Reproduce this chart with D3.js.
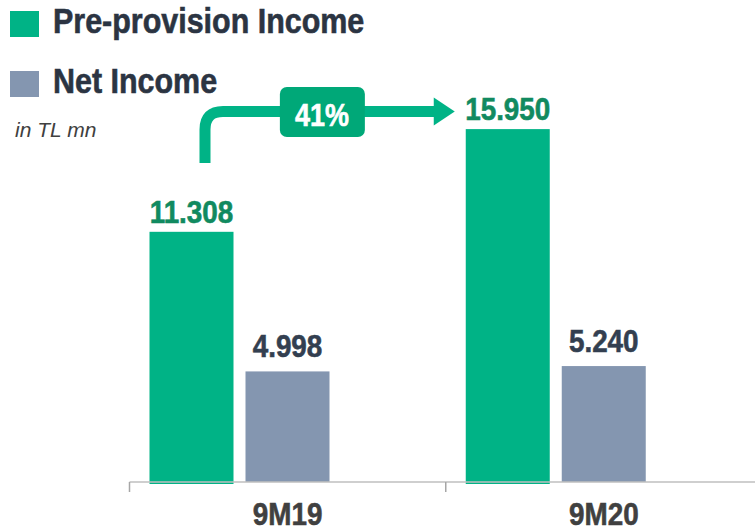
<!DOCTYPE html>
<html>
<head>
<meta charset="utf-8">
<script src="https://cdn.jsdelivr.net/npm/d3@7"></script>
<style>
  body { margin: 0; background: #fff; }
  svg { display: block; font-family: "Liberation Sans", Arial, sans-serif; }
  .heavy { font-weight: bold; stroke-width: 0.6px; paint-order: stroke; }
</style>
</head>
<body>
<div id="chart"></div>
<script>
// data
const periods = ["9M19", "9M20"];
const seriesNames = ["Pre-provision Income", "Net Income"];
const preProvision = [11.308, 15.950];
const netIncome = [4.998, 5.240];
const growthLabel = "41%";
const unitLabel = "in TL mn";

const width = 755;
const height = 530;
const narrow = "scale(0.87,1)"; // source font is a condensed bold

const colors = { "Pre-provision Income": "#00b386", "Net Income": "#8496b0" };
const labelColors = { "Pre-provision Income": "#118a60", "Net Income": "#333f50" };
const labelGap = { "Pre-provision Income": 9, "Net Income": 14 };

const rows = periods.map((p, i) => ({
    period: p,
    values: [
        { name: seriesNames[0], value: preProvision[i] },
        { name: seriesNames[1], value: netIncome[i] },
    ],
}));

const svg = d3.select("#chart")
    .append("svg")
    .attr("width", width)
    .attr("height", height);

const x = d3.scaleBand()
    .domain(periods)
    .range([129.5, 762])
    .padding(0);

const xInner = d3.scaleBand()
    .domain(seriesNames)
    .range([20, 200])
    .paddingInner(0.125)
    .paddingOuter(0);

const y = d3.scaleLinear()
    .domain([0, 16])
    .range([482, 128]);

// category labels
const axis = svg.append("g")
    .attr("transform", `translate(0, ${y(0)})`)
    .call(d3.axisBottom(x).tickSize(0).tickPadding(20));

axis.select(".domain").remove();
axis.selectAll("text")
    .attr("class", "heavy")
    .attr("transform", narrow)
    .attr("dy", "0.71em")
    .style("font-size", "32px")
    .style("fill", "#404040")
    .style("stroke", "#404040");

// bars
const groups = svg.selectAll(".period")
    .data(rows)
    .enter()
    .append("g")
    .attr("class", "period")
    .attr("transform", d => `translate(${x(d.period)}, 0)`);

groups.selectAll("rect")
    .data(d => d.values)
    .enter()
    .append("rect")
    .attr("x", d => xInner(d.name))
    .attr("y", d => y(d.value))
    .attr("width", xInner.bandwidth())
    .attr("height", d => y(0) - y(d.value) + (d.name === seriesNames[0] ? 2 : 0))
    .attr("fill", d => colors[d.name]);

groups.selectAll("g.lbl")
    .data(d => d.values)
    .enter()
    .append("g")
    .attr("class", "lbl")
    .attr("transform", d => `translate(${xInner(d.name) + xInner.bandwidth() / 2}, ${y(d.value) - labelGap[d.name]})`)
    .append("text")
    .attr("class", "heavy")
    .attr("transform", narrow)
    .attr("text-anchor", "middle")
    .style("font-size", "32px")
    .style("fill", d => labelColors[d.name])
    .style("stroke", d => labelColors[d.name])
    .text(d => d3.format(".3f")(d.value));

// axis line drawn over bar bottoms
svg.append("line")
    .attr("x1", x.range()[0])
    .attr("x2", width)
    .attr("y1", y(0))
    .attr("y2", y(0))
    .attr("stroke", "#bfbfbf")
    .attr("stroke-width", 1.5);

svg.selectAll(".tickmark")
    .data(periods)
    .enter()
    .append("line")
    .attr("class", "tickmark")
    .attr("x1", d => x(d))
    .attr("x2", d => x(d))
    .attr("y1", y(0))
    .attr("y2", y(0) + 10)
    .attr("stroke", "#a6a6a6")
    .attr("stroke-width", 1.5);

// legend
const legend = svg.selectAll(".legend")
    .data(seriesNames)
    .enter()
    .append("g")
    .attr("class", "legend")
    .attr("transform", (d, i) => `translate(10, ${11 + i * 60})`);

legend.append("rect")
    .attr("width", 29)
    .attr("height", 26)
    .attr("fill", d => colors[d]);

legend.append("g")
    .attr("transform", "translate(43, 22)")
    .append("text")
    .attr("class", "heavy")
    .attr("transform", narrow)
    .style("font-size", "35px")
    .style("fill", "#2b3442")
    .style("stroke", "#2b3442")
    .text(d => d);

svg.append("text")
    .attr("x", 15)
    .attr("y", 137)
    .style("font-size", "21px")
    .style("font-style", "italic")
    .style("fill", "#404040")
    .text(unitLabel);

// growth arrow from 9M19 to 9M20 pre-provision bars
const startX = x(periods[0]) + xInner(seriesNames[0]) + 55.5;
const endX = x(periods[1]) + xInner(seriesNames[0]) - 11;
const lineY = 111.5;
const r = 18;

svg.append("path")
    .attr("d", `M${startX},163 V${lineY + r} Q${startX},${lineY} ${startX + r},${lineY} H${endX - 20}`)
    .attr("fill", "none")
    .attr("stroke", "#00b386")
    .attr("stroke-width", 11);

svg.append("path")
    .attr("d", `M${endX - 21},${lineY - 14} L${endX},${lineY} L${endX - 21},${lineY + 14} Z`)
    .attr("fill", "#00b386");

const boxCx = (startX + endX) / 2 - 8;
svg.append("rect")
    .attr("x", boxCx - 42)
    .attr("y", 87)
    .attr("width", 85)
    .attr("height", 50)
    .attr("rx", 7)
    .attr("fill", "#00a878");

svg.append("g")
    .attr("transform", `translate(${boxCx}, 126)`)
    .append("text")
    .attr("class", "heavy")
    .attr("transform", narrow)
    .attr("text-anchor", "middle")
    .style("font-size", "31px")
    .style("fill", "#fff")
    .style("stroke", "#fff")
    .text(growthLabel);
</script>
</body>
</html>
